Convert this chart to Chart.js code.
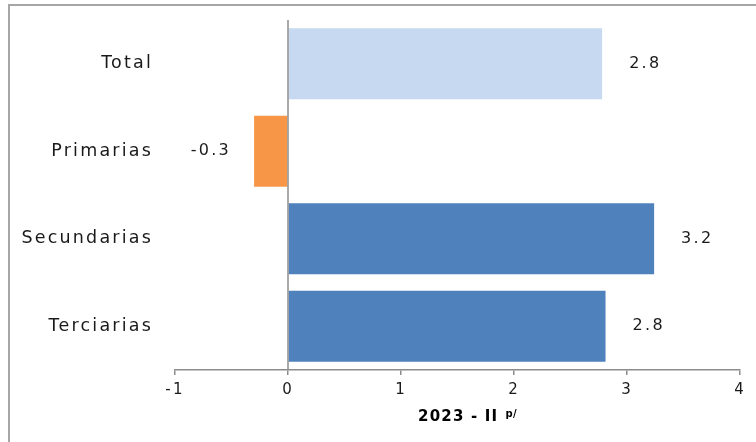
<!DOCTYPE html>
<html>
<head>
<meta charset="utf-8">
<script src="https://cdn.jsdelivr.net/npm/chart.js@4.4.1/dist/chart.umd.min.js"></script>
<style>
  body { margin: 0; background: #fff; overflow: hidden; }
  #wrap { position: relative; width: 756px; height: 442px; }
  #frame { position: absolute; left: 8px; top: 4px; width: 800px; height: 500px;
           border-top: 2px solid #a6a6a6; border-left: 2px solid #a6a6a6; }
  canvas { position: absolute; left: 0; top: 0; }
</style>
</head>
<body>
<div id="wrap">
  <div id="frame"></div>
  <canvas id="mychart" width="756" height="442"></canvas>
</div>
<script>
// data
var categories = ["Total", "Primarias", "Secundarias", "Terciarias"];
var values = [2.78, -0.30, 3.24, 2.81];
var xTicks = [-1, 0, 1, 2, 3, 4];
var axisTitle = "2023 - II";
var axisTitleSup = "p/";

var barColors = ['#c6d9f1', '#f79646', '#4f81bd', '#4f81bd'];
var gray = '#8c8c8c';

// the reference text is spaced out, so widen it a bit
var spacing = {
	beforeLayout: function(chart){ chart.ctx.letterSpacing = '2.2px'; },
	beforeDraw: function(chart){ chart.ctx.letterSpacing = '2.2px'; }
};

var extras = {
	afterDatasetsDraw: function(chart){
		var ctx = chart.ctx;
		var xs = chart.scales.x;
		var area = chart.chartArea;
		var zero = xs.getPixelForValue(0);

		// zero line
		ctx.save();
		ctx.strokeStyle = gray;
		ctx.lineWidth = 1.5;
		ctx.beginPath();
		ctx.moveTo(zero, area.top);
		ctx.lineTo(zero, area.bottom);
		ctx.stroke();
		ctx.restore();

		// value labels
		var meta = chart.getDatasetMeta(0);
		ctx.save();
		ctx.font = '16px "DejaVu Sans"';
		ctx.letterSpacing = '2.3px';
		ctx.fillStyle = '#1a1a1a';
		ctx.textBaseline = 'middle';
		for(var i = 0; i < meta.data.length; i++)
		{
			var bar = meta.data[i];
			var txt = values[i].toFixed(1);
			if(values[i] >= 0)
			{
				ctx.textAlign = 'left';
				ctx.fillText(txt, bar.x + 27, bar.y);
			}
			else
			{
				ctx.textAlign = 'right';
				ctx.fillText(txt, bar.x - 23, bar.y);
			}
		}
		ctx.restore();

		// axis title with superscript
		ctx.save();
		ctx.fillStyle = '#000';
		ctx.textBaseline = 'alphabetic';
		ctx.textAlign = 'left';
		ctx.letterSpacing = '1.2px';
		ctx.font = 'bold 15px "DejaVu Sans"';
		var w = ctx.measureText(axisTitle).width;
		var left = 418;
		ctx.fillText(axisTitle, left, 421);
		ctx.font = 'bold 10px "DejaVu Sans"';
		ctx.letterSpacing = '0.5px';
		ctx.fillText(axisTitleSup, left + w + 7, 417);
		ctx.restore();
	}
};

var ctx = document.getElementById('mychart').getContext('2d');
var chart = new Chart(ctx, {
	type: 'bar',
	data: {
		labels: categories,
		datasets: [{
			data: values,
			backgroundColor: barColors,
			borderWidth: 0,
			categoryPercentage: 1,
			barPercentage: 0.81
		}]
	},
	options: {
		indexAxis: 'y',
		responsive: false,
		animation: false,
		devicePixelRatio: 1,
		layout: { autoPadding: false, padding: { top: 20, right: 16, left: 0, bottom: 0 } },
		plugins: {
			legend: { display: false },
			tooltip: { enabled: false }
		},
		scales: {
			x: {
				min: -1,
				max: 4,
				afterBuildTicks: function(scale){
					scale.ticks = xTicks.map(function(v){ return { value: v }; });
				},
				afterFit: function(scale){
					scale.height = 72;
					scale.paddingLeft = 0;
					scale.paddingRight = 0;
				},
				grid: { display: true, drawOnChartArea: false, drawTicks: true, tickLength: 5, color: gray, lineWidth: 1.5 },
				border: { display: true, color: gray, width: 1.5 },
				ticks: {
					font: { family: 'DejaVu Sans', size: 15 },
					color: '#1a1a1a',
					padding: 6,
					maxRotation: 0
				}
			},
			y: {
				afterFit: function(scale){
					scale.width = 175;
					scale.paddingTop = 0;
					scale.paddingBottom = 0;
				},
				grid: { display: false },
				border: { display: false },
				ticks: {
					font: { family: 'DejaVu Sans', size: 17.5 },
					color: '#1a1a1a',
					padding: 14
				}
			}
		}
	},
	plugins: [spacing, extras]
});
</script>
</body>
</html>
